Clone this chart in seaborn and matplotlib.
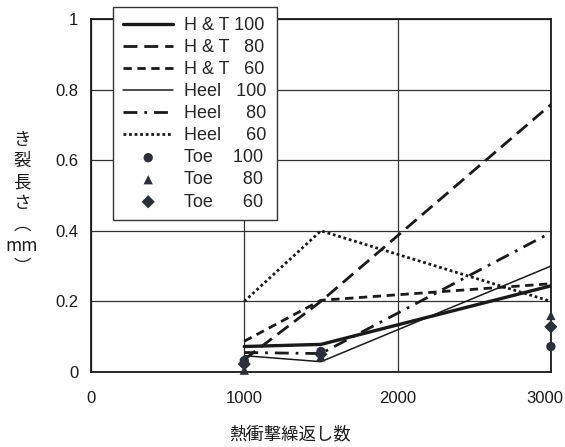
import numpy as np
import pandas as pd
import matplotlib
matplotlib.use("Agg")
import matplotlib.pyplot as plt
import matplotlib.transforms as mtrans
import seaborn as sns

# datos
ciclos = [1000, 1500, 3000]
ht_100 = [0.072, 0.078, 0.244]
ht_80 = [0.035, 0.200, 0.758]
ht_60 = [0.087, 0.203, 0.250]
heel_100 = [0.046, 0.029, 0.300]
heel_80 = [0.055, 0.052, 0.395]
heel_60 = [0.200, 0.400, 0.200]
toe_100 = [0.032, 0.058, 0.072]
toe_80 = [0.005, 0.043, 0.160]
toe_60 = [0.022, 0.050, 0.128]

xticks = [0, 1000, 2000, 3000]
yticks = [0, 0.2, 0.4, 0.6, 0.8, 1.0]
ytick_labels = ["0", "0.2", "0.4", "0.6", "0.8", "1"]

sns.set_theme(style="white")
plt.rcParams['font.family'] = ['Liberation Sans', 'Noto Sans CJK JP', 'DejaVu Sans']

fig = plt.figure(figsize=(5.65, 4.47), dpi=100)
ax = fig.add_axes([0.161, 0.168, 0.814, 0.789])

negro = "#1a1a1a"
# series de lineas: (valores, etiqueta, grosor, guiones)
lineas = [
    (ht_100, "H & T 100", 2.4, ""),
    (ht_80, "H & T   80", 2.0, (5, 2.5)),
    (ht_60, "H & T   60", 2.0, (3, 2)),
    (heel_100, "Heel   100", 1.1, ""),
    (heel_80, "Heel     80", 2.0, (5, 2.5, 1, 2.5)),
    (heel_60, "Heel     60", 2.0, (1, 1)),
]
for vals, etiqueta, lw, guion in lineas:
    df = pd.DataFrame({"x": ciclos, "y": vals})
    sns.lineplot(data=df, x="x", y="y", ax=ax, color=negro, linewidth=lw,
                 label=etiqueta)
    if guion:
        ax.lines[-1].set_dashes(guion)

marcas = [
    (toe_100, "Toe    100", "o"),
    (toe_80, "Toe      80", "^"),
    (toe_60, "Toe      60", "D"),
]
for vals, etiqueta, m in marcas:
    df = pd.DataFrame({"x": ciclos, "y": vals})
    sns.scatterplot(data=df, x="x", y="y", ax=ax, color="#2a2f3a", marker=m,
                    s=45, edgecolor="none", label=etiqueta, clip_on=False, zorder=5)

ax.set_xlim(0, 3000)
ax.set_ylim(0, 1)
ax.set_xticks(xticks)
ax.set_xticklabels([str(t) for t in xticks])
ax.set_yticks(yticks)
ax.set_yticklabels(ytick_labels)
ax.tick_params(axis="x", length=0, pad=14, labelsize=12, colors="#1a1a1a")
ax.tick_params(axis="y", length=0, pad=9, labelsize=12, colors="#1a1a1a")
# el ultimo rotulo queda pegado al borde
ultimo = ax.get_xticklabels()[-1]
ultimo.set_transform(ultimo.get_transform() +
                     mtrans.ScaledTranslation(-0.06, 0, fig.dpi_scale_trans))
ax.grid(True, color="#333333", linewidth=0.9)
for s in ax.spines.values():
    s.set_color("#1a1a1a")
    s.set_linewidth(1.3)
ax.set_xlabel("")
ax.set_ylabel("")

handles, labels = ax.get_legend_handles_labels()
ax.get_legend().remove()
leg = fig.legend(handles, labels, loc="upper left", bbox_to_anchor=(0.2, 0.984),
                 frameon=True, fancybox=False, edgecolor="#333333", fontsize=13,
                 handlelength=2.8, handletextpad=0.6, labelspacing=0.28,
                 borderpad=0.55, borderaxespad=0)
leg.get_frame().set_linewidth(1.0)
leg.get_frame().set_alpha(1)

fig.text(0.039, 0.545, "き\n裂\n長\nさ\n︵\nmm\n︶", ha="center", va="center",
         fontsize=12.5, linespacing=1.22, color="#1a1a1a",
         family=['Noto Sans CJK JP', 'DejaVu Sans'])
fig.text(0.513, 0.029, "熱衝撃繰返し数", ha="center", va="center", fontsize=12.5,
         color="#1a1a1a", family=['Noto Sans CJK JP', 'DejaVu Sans'])

fig.savefig("out.png", dpi=100)
